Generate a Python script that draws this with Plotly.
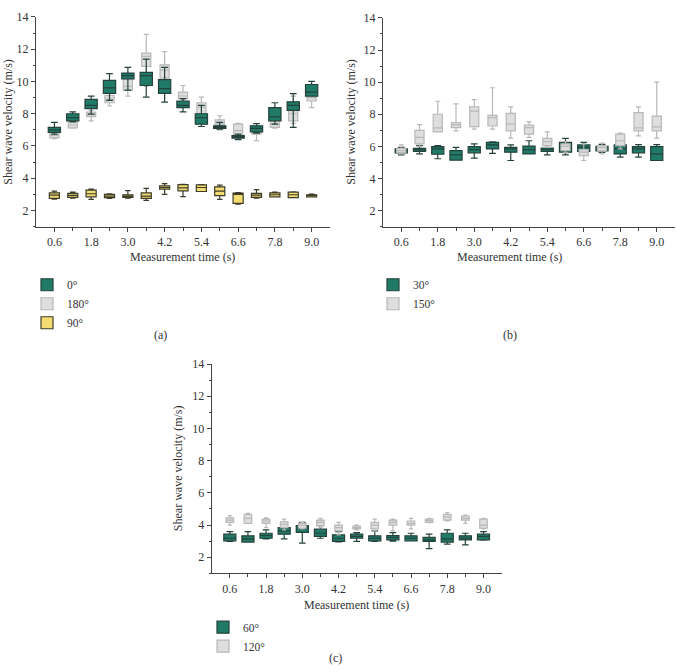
import plotly.graph_objects as go

W, H = 677, 672

times = [0.6, 1.2, 1.8, 2.4, 3.0, 3.6, 4.2, 4.8, 5.4, 6.0, 6.6, 7.2, 7.8, 8.4, 9.0]
xtick_vals = [0.6, 1.8, 3.0, 4.2, 5.4, 6.6, 7.8, 9.0]
xminor_vals = [1.2, 2.4, 3.6, 4.8, 6.0, 7.2, 8.4]
ytick_vals = [2, 4, 6, 8, 10, 12, 14]

# ---- Panel (a): 0°, 180°, 90°
a0_lo  = [6.74, 7.50, 7.97, 8.83, 9.46, 9.03, 8.72, 8.11, 7.21, 7.05, 6.39, 6.80, 7.35, 7.15, 9.09]
a0_q1  = [6.84, 7.56, 8.31, 9.26, 10.16, 9.75, 9.26, 8.38, 7.35, 7.09, 6.49, 6.88, 7.56, 8.21, 9.09]
a0_med = [7.00, 7.76, 8.52, 9.60, 10.36, 10.36, 9.56, 8.52, 7.76, 7.17, 6.56, 7.09, 7.80, 8.52, 9.34]
a0_q3  = [7.15, 8.00, 8.89, 10.07, 10.52, 10.56, 10.11, 8.79, 8.00, 7.25, 6.64, 7.25, 8.38, 8.74, 9.81]
a0_hi  = [7.46, 8.11, 9.09, 10.48, 10.87, 11.38, 10.87, 8.93, 8.52, 7.46, 6.74, 7.39, 8.68, 9.24, 10.00]

a180_lo  = [6.45, 7.10, 7.56, 8.48, 9.09, 9.70, 9.40, 8.85, 7.80, 7.00, 6.55, 6.33, 7.10, 7.40, 8.38]
a180_q1  = [6.50, 7.12, 7.82, 8.68, 9.44, 10.93, 10.20, 8.93, 7.97, 7.09, 6.60, 6.74, 7.15, 7.56, 8.79]
a180_med = [6.65, 7.30, 7.95, 8.90, 9.70, 11.55, 10.70, 9.10, 8.40, 7.35, 6.95, 6.90, 7.35, 8.00, 9.00]
a180_q3  = [6.85, 7.56, 8.10, 9.13, 10.16, 11.75, 11.03, 9.34, 8.68, 7.62, 7.35, 7.05, 7.56, 8.58, 9.19]
a180_hi  = [7.00, 7.50, 8.20, 9.30, 10.50, 12.92, 11.85, 9.75, 9.03, 7.87, 7.40, 7.20, 7.70, 9.09, 9.40]

a90_lo  = [2.71, 2.77, 2.69, 2.75, 2.77, 2.63, 3.00, 2.86, 3.18, 2.69, 2.40, 2.77, 2.85, 2.80, 2.84]
a90_q1  = [2.75, 2.82, 2.85, 2.80, 2.82, 2.75, 3.33, 3.22, 3.18, 2.92, 2.45, 2.82, 2.85, 2.80, 2.84]
a90_med = [2.96, 2.94, 3.04, 2.90, 2.90, 2.90, 3.43, 3.41, 3.43, 3.20, 3.00, 2.96, 2.98, 2.98, 2.92]
a90_q3  = [3.10, 3.06, 3.26, 3.00, 2.98, 3.10, 3.53, 3.61, 3.59, 3.47, 3.08, 3.06, 3.10, 3.14, 2.98]
a90_hi  = [3.20, 3.14, 3.33, 3.04, 3.24, 3.37, 3.67, 3.63, 3.61, 3.57, 3.12, 3.30, 3.14, 3.16, 3.02]

# ---- Panel (b): 30°, 150°
b30_lo  = [5.47, 5.53, 5.23, 5.14, 5.27, 5.57, 5.12, 5.53, 5.47, 5.47, 5.60, 5.62, 5.33, 5.33, 5.12]
b30_q1  = [5.60, 5.68, 5.51, 5.14, 5.60, 5.84, 5.64, 5.53, 5.68, 5.64, 5.68, 5.72, 5.53, 5.60, 5.12]
b30_med = [5.72, 5.78, 5.84, 5.47, 5.80, 6.09, 5.84, 5.80, 5.80, 5.94, 5.94, 5.88, 5.84, 5.84, 5.53]
b30_q3  = [5.84, 5.88, 5.98, 5.74, 5.98, 6.25, 5.94, 6.02, 5.90, 6.25, 6.09, 6.00, 6.09, 5.98, 5.98]
b30_hi  = [5.94, 6.05, 6.05, 5.94, 6.15, 6.29, 6.09, 6.35, 6.09, 6.50, 6.25, 6.12, 6.25, 6.11, 6.11]

b150_lo  = [5.53, 6.00, 6.90, 6.97, 7.07, 7.07, 6.52, 6.56, 5.94, 5.60, 5.12, 5.53, 5.84, 6.66, 6.52]
b150_q1  = [5.62, 6.15, 6.90, 7.17, 7.23, 7.27, 6.97, 6.76, 6.05, 5.74, 5.43, 5.72, 6.05, 6.97, 6.97]
b150_med = [5.74, 6.56, 7.15, 7.34, 8.20, 7.79, 7.38, 7.17, 6.29, 6.00, 5.64, 5.92, 6.35, 7.15, 7.21]
b150_q3  = [5.88, 7.00, 8.00, 7.48, 8.46, 7.93, 8.05, 7.32, 6.50, 6.15, 5.80, 6.05, 6.76, 8.10, 7.89]
b150_hi  = [6.09, 7.36, 8.81, 8.65, 8.91, 9.65, 8.46, 7.52, 6.90, 6.30, 6.15, 6.20, 6.82, 8.46, 10.00]

# ---- Panel (c): 60°, 120°
c60_lo  = [2.98, 2.94, 3.14, 3.14, 2.88, 3.18, 2.96, 2.98, 2.98, 3.00, 3.02, 2.53, 2.82, 2.77, 3.06]
c60_q1  = [3.02, 2.94, 3.18, 3.43, 3.55, 3.29, 2.98, 3.18, 3.02, 3.08, 3.02, 2.98, 2.94, 3.08, 3.08]
c60_med = [3.18, 3.14, 3.35, 3.64, 3.80, 3.49, 3.18, 3.29, 3.18, 3.23, 3.18, 3.08, 3.14, 3.18, 3.29]
c60_q3  = [3.43, 3.33, 3.49, 3.84, 3.96, 3.74, 3.39, 3.43, 3.33, 3.35, 3.33, 3.23, 3.49, 3.33, 3.43]
c60_hi  = [3.59, 3.59, 3.70, 4.10, 4.17, 3.96, 3.59, 3.53, 3.64, 3.53, 3.49, 3.43, 3.70, 3.49, 3.59]

c120_lo  = [4.00, 4.10, 3.84, 3.70, 3.76, 3.84, 3.39, 3.70, 3.64, 3.64, 3.76, 4.15, 4.25, 4.10, 3.76]
c120_q1  = [4.17, 4.10, 4.10, 3.84, 3.80, 3.96, 3.64, 3.76, 3.76, 4.00, 4.00, 4.17, 4.31, 4.31, 3.80]
c120_med = [4.31, 4.41, 4.25, 4.04, 4.00, 4.17, 3.84, 3.84, 4.00, 4.17, 4.10, 4.27, 4.51, 4.41, 4.00]
c120_q3  = [4.45, 4.66, 4.37, 4.20, 4.10, 4.31, 4.00, 3.94, 4.17, 4.31, 4.25, 4.37, 4.66, 4.56, 4.37]
c120_hi  = [4.58, 4.72, 4.45, 4.37, 4.15, 4.41, 4.17, 4.00, 4.37, 4.37, 4.41, 4.41, 4.78, 4.62, 4.41]

GREEN_FILL, GREEN_LINE = "#1f7a67", "#24423b"
GREY_FILL, GREY_LINE = "#dedede", "#b8b8b8"
YEL_FILL, YEL_LINE = "#f3dc72", "#3d3d2a"
FONT = "Liberation Serif"
TXT = "#333333"

fig = go.Figure()


def add_box(name, lo, q1, med, q3, hi, fill, line, width, xa, ya, legend, rank):
    fig.add_trace(go.Box(
        name=name, x=times, lowerfence=lo, q1=q1, median=med, q3=q3, upperfence=hi,
        fillcolor=fill, line=dict(color=line, width=1.2), width=width,
        whiskerwidth=0.55, boxpoints=False, xaxis=xa, yaxis=ya,
        legend=legend, legendrank=rank, showlegend=True,
    ))


# panel (a): grey drawn underneath
add_box("180°", a180_lo, a180_q1, a180_med, a180_q3, a180_hi, GREY_FILL, GREY_LINE, 0.30, "x", "y", "legend", 2)
add_box("0°", a0_lo, a0_q1, a0_med, a0_q3, a0_hi, GREEN_FILL, GREEN_LINE, 0.40, "x", "y", "legend", 1)
add_box("90°", a90_lo, a90_q1, a90_med, a90_q3, a90_hi, YEL_FILL, YEL_LINE, 0.33, "x", "y", "legend", 3)
# panel (b)
add_box("30°", b30_lo, b30_q1, b30_med, b30_q3, b30_hi, GREEN_FILL, GREEN_LINE, 0.40, "x2", "y2", "legend2", 1)
add_box("150°", b150_lo, b150_q1, b150_med, b150_q3, b150_hi, GREY_FILL, GREY_LINE, 0.30, "x2", "y2", "legend2", 2)
# panel (c)
add_box("60°", c60_lo, c60_q1, c60_med, c60_q3, c60_hi, GREEN_FILL, GREEN_LINE, 0.40, "x3", "y3", "legend3", 1)
add_box("120°", c120_lo, c120_q1, c120_med, c120_q3, c120_hi, GREY_FILL, GREY_LINE, 0.25, "x3", "y3", "legend3", 2)


def px(x):
    return x / W


def py(y):
    return 1 - y / H


def xaxis(domain, anchor):
    return dict(
        domain=domain, anchor=anchor, range=[0, 9.6], tickvals=xtick_vals, tickformat=".1f",
        showline=True, linecolor="#444", linewidth=1, ticks="outside", ticklen=4, tickcolor="#444",
        minor=dict(tickvals=xminor_vals, ticks="outside", ticklen=3, tickcolor="#444"),
        showgrid=False, zeroline=False, tickfont=dict(family=FONT, size=12, color=TXT),
        fixedrange=True,
    )


def yaxis(domain, anchor):
    return dict(
        domain=domain, anchor=anchor, range=[1, 14], tickvals=ytick_vals,
        showline=True, linecolor="#444", linewidth=1, ticks="outside", ticklen=4, tickcolor="#444",
        minor=dict(dtick=1, tick0=1, ticks="outside", ticklen=2, tickcolor="#444"),
        showgrid=False, zeroline=False, tickfont=dict(family=FONT, size=12, color=TXT),
        fixedrange=True,
    )


legend_common = dict(font=dict(family=FONT, size=11.5, color=TXT), bgcolor="rgba(0,0,0,0)",
                     xanchor="left", yanchor="top", orientation="v", traceorder="normal")

ann = []


def add_text(text, x, y, angle=0):
    ann.append(dict(text=text, x=px(x), y=py(y), xref="paper", yref="paper", showarrow=False,
                    xanchor="center", yanchor="middle", textangle=angle,
                    font=dict(family=FONT, size=12, color=TXT)))


add_text("Measurement time (s)", 182, 253)
add_text("Measurement time (s)", 510, 253)
add_text("Measurement time (s)", 356, 604)
add_text("Shear wave velocity (m/s)", 8, 116, -90)
add_text("Shear wave velocity (m/s)", 351, 116, -90)
add_text("Shear wave velocity (m/s)", 178, 466, -90)
add_text("(a)", 160, 331)
add_text("(b)", 510, 331)
add_text("(c)", 335, 658)

fig.update_layout(
    width=W, height=H, autosize=False,
    margin=dict(l=0, r=0, t=0, b=0),
    paper_bgcolor="white", plot_bgcolor="white",
    boxmode="overlay",
    xaxis=xaxis([px(36), px(330)], "y"),
    yaxis=yaxis([py(222), py(10)], "x"),
    xaxis2=xaxis([px(383), px(675)], "y2"),
    yaxis2=yaxis([py(222), py(11)], "x2"),
    xaxis3=xaxis([px(211.7), px(501.6)], "y3"),
    yaxis3=yaxis([py(572.3), py(360.8)], "x3"),
    legend=dict(x=px(27), y=py(266), **legend_common),
    legend2=dict(x=px(373), y=py(266), **legend_common),
    legend3=dict(x=px(203), y=py(612), **legend_common),
    annotations=ann,
    font=dict(family=FONT, size=12, color=TXT),
)

fig.write_html("out.html")
